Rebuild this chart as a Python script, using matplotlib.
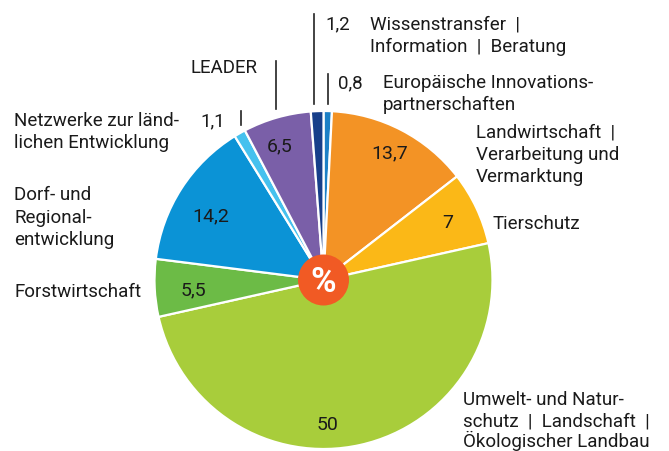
import numpy as np
import matplotlib
matplotlib.use("Agg")
import matplotlib.pyplot as plt
from matplotlib.patches import Circle

# ---- data ----
categories = [
    "Europäische Innovations-\npartnerschaften",
    "Landwirtschaft  |\nVerarbeitung und\nVermarktung",
    "Tierschutz",
    "Umwelt- und Natur-\nschutz  |  Landschaft  |\nÖkologischer Landbau",
    "Forstwirtschaft",
    "Dorf- und\nRegional-\nentwicklung",
    "Netzwerke zur länd-\nlichen Entwicklung",
    "LEADER",
    "Wissenstransfer  |\nInformation  |  Beratung",
]
values = [0.8, 13.7, 7, 50, 5.5, 14.2, 1.1, 6.5, 1.2]
value_labels = ["0,8", "13,7", "7", "50", "5,5", "14,2", "1,1", "6,5", "1,2"]

# ---- style ----
colors = ["#1c80c6", "#f39325", "#fbb817", "#a8cd3b", "#6cbb46",
          "#0b93d6", "#46c1ee", "#7a5fa8", "#173f8a"]
W, H = 669, 452
FONT = "Roboto"
TXT = "#1a1a1a"
FS = 13.5

def Y(py):
    return H - py

fig = plt.figure(figsize=(W / 100, H / 100), dpi=100)
ax = fig.add_axes([0, 0, 1, 1])

cx, cy, R = 323.5, Y(281), 169
wedges, _ = ax.pie(values, colors=colors, startangle=90, counterclock=False,
                   center=(cx, cy), radius=R,
                   wedgeprops=dict(edgecolor="white", linewidth=1.6))
ax.set_xlim(0, W)
ax.set_ylim(0, H)
ax.set_aspect("equal")
ax.axis("off")

# inside value labels: (index, radius fraction, angle offset deg)
inside = {1: (0.85, 0.0), 2: (0.81, 0.0), 3: (0.85, 11.0), 4: (0.77, -1.5),
          5: (0.77, -3.0), 7: (0.84, -2.0)}
total = sum(values)
cum = np.cumsum([0] + values)
for i, (frac, off) in inside.items():
    mid = (cum[i] + values[i] / 2) / total * 360 + off
    th = np.radians(mid)
    x = cx + R * frac * np.sin(th)
    y = cy + R * frac * np.cos(th)
    ax.text(x, y, value_labels[i], ha="center", va="center",
            fontsize=14, family=FONT, color=TXT)


def block(x, baselines, text):
    for line, b in zip(text.split("\n"), baselines):
        ax.text(x, Y(b), line, ha="left", va="baseline", fontsize=FS,
                family=FONT, color=TXT)


# outside labels
block(14, [126, 148], categories[6])
block(200, [126], value_labels[6])
block(14, [200, 223, 245], categories[5])
block(14, [297], categories[4])
block(190, [73], categories[7])
block(325, [29], value_labels[8])
block(370, [29, 52], categories[8])
block(338, [88], value_labels[0])
block(383, [88, 110], categories[0])
block(476, [137, 160, 182], categories[1])
block(493, [229], categories[2])
block(463, [405, 427, 447], categories[3])

# leader lines
lc = dict(color="#222222", linewidth=1.2)
ax.plot([314, 314], [Y(15), Y(105)], **lc)
ax.plot([328, 328], [Y(75), Y(105)], **lc)
ax.plot([276, 276], [Y(62), Y(110)], **lc)
ax.plot([241, 241], [Y(112), Y(126)], **lc)

# centre badge
ax.add_patch(Circle((cx, Y(281)), 25.5, facecolor="#f15a24", edgecolor="none", zorder=5))
ax.text(cx, Y(282), "%", ha="center", va="center", fontsize=25, family=FONT,
        fontweight="bold", color="white", zorder=6)

fig.savefig("out.png", dpi=100)
